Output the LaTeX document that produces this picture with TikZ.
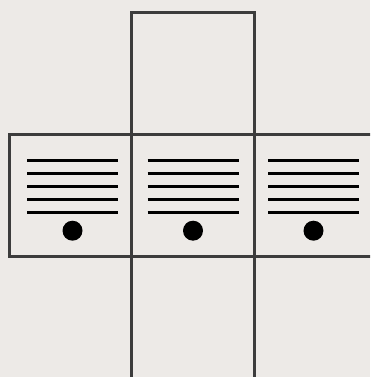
\documentclass[tikz,border=0pt]{standalone}
\usepackage{xcolor}
\usetikzlibrary{calc}

\definecolor{marble}{HTML}{EDEAE7}
\definecolor{frame}{HTML}{3C3C3C}

\begin{document}
\begin{tikzpicture}[x=0.03cm, y=-0.03cm, tile/.style={draw=frame, line width=2.6pt, minimum size=3.675cm, inner sep=0pt}, rule/.style={line width=2.1pt, black}]
  \useasboundingbox[fill=marble] (0,0) rectangle (370,377);
  \clip (0,0) rectangle (370,377);
  \node[tile] (top) at (193,73.7) {};
  \node[tile] (left) at (70.5,195.7) {};
  \node[tile] (mid) at (193,195.7) {};
  \node[tile] (right) at (315.5,195.7) {};
  \node[tile] (bottom) at (193,317.7) {};
  % five rules and a dot in each tile of the middle row
  \foreach \c/\dx in {left/2, mid/0, right/-2} {
    \foreach \dy in {-35,-22,-9,4,17}
      \draw[rule] ($(\c.center)+({\dx-45.5},\dy)$) -- ++(91,0);
    \fill ($(\c.center)+(\dx,35)$) circle[radius=10];
  }
\end{tikzpicture}
\end{document}
